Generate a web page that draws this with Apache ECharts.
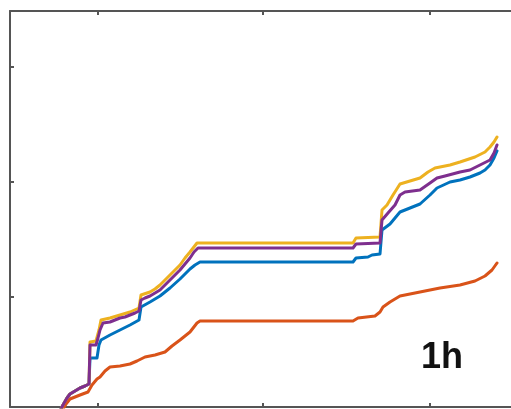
<!DOCTYPE html>
<html>
<head>
<meta charset="utf-8">
<script src="https://cdn.jsdelivr.net/npm/echarts@6/dist/echarts.min.js"></script>
<style>html,body{margin:0;padding:0;background:#fff;overflow:hidden;}#c{width:530px;height:409px;}</style>
</head>
<body>
<div id="c"></div>
<script>
// Tick positions (axes have no labels)
const xTicks = [8.8, 25.3, 42.0];
const yTicks = [11.0, 22.5, 34.0];

// Series values [x, y]
const blueData = [[5.0,-0.4],[5.3,0.2],[5.7,0.9],[6.0,1.3],[6.5,1.6],[7.0,1.9],[7.5,2.1],[7.9,2.3],
  [8.0,4.9],[8.7,4.9],[8.9,6.2],[9.1,6.7],[10.0,7.2],[11.0,7.7],[12.0,8.2],[12.9,8.7],
  [13.1,10.0],[14.0,10.5],[15.0,11.1],[16.0,11.9],[17.0,12.8],[18.0,13.8],[18.5,14.2],[19.0,14.5],
  [34.3,14.5],[34.6,14.9],[35.8,15.0],[36.2,15.2],[37.0,15.3],[37.2,17.7],[38.0,18.3],[38.5,18.9],
  [39.0,19.5],[40.0,19.9],[41.0,20.3],[42.0,21.2],[42.7,21.9],[44.0,22.5],[45.0,22.7],[46.0,23.0],
  [47.0,23.4],[47.5,23.7],[48.0,24.2],[48.4,24.9],[48.7,25.6]];

const orangeData = [[5.2,-0.4],[5.6,0.3],[6.0,0.8],[7.0,1.2],[7.8,1.5],[8.2,2.2],[8.7,2.8],[9.0,3.0],
  [9.5,3.6],[10.0,4.0],[11.0,4.1],[12.0,4.3],[12.7,4.6],[13.5,5.0],[14.5,5.2],[15.5,5.5],
  [16.2,6.1],[17.0,6.7],[18.0,7.5],[18.7,8.4],[19.0,8.6],[34.3,8.6],[34.8,8.9],[36.5,9.1],
  [37.0,9.5],[37.3,10.0],[38.0,10.5],[39.0,11.1],[41.0,11.5],[43.0,11.9],[45.0,12.2],[46.5,12.6],
  [47.5,13.1],[48.2,13.7],[48.7,14.4]];

const yellowData = [[5.0,-0.4],[5.3,0.2],[5.7,0.9],[6.0,1.3],[6.5,1.6],[7.0,1.9],[7.5,2.1],[7.9,2.3],
  [8.0,6.5],[8.6,6.6],[8.9,7.7],[9.1,8.7],[10.0,8.9],[11.0,9.2],[12.0,9.5],[12.9,9.9],
  [13.1,11.2],[14.0,11.5],[14.5,11.8],[15.0,12.2],[15.5,12.7],[16.0,13.2],[16.5,13.7],[17.0,14.2],
  [17.5,14.9],[18.0,15.5],[18.7,16.4],[34.3,16.4],[34.6,16.9],[37.0,17.0],[37.2,19.7],[37.7,20.2],
  [38.3,21.2],[39.0,22.3],[40.0,22.6],[41.0,22.9],[41.8,23.5],[42.5,23.9],[44.0,24.2],[45.0,24.5],
  [46.5,25.0],[47.5,25.5],[48.0,26.0],[48.4,26.5],[48.7,27.0]];

const purpleData = [[5.0,-0.4],[5.3,0.2],[5.7,0.9],[6.0,1.3],[6.5,1.6],[7.0,1.9],[7.5,2.1],[7.9,2.3],
  [8.0,6.2],[8.6,6.2],[8.8,6.9],[9.0,7.7],[9.3,8.4],[10.0,8.5],[10.5,8.7],[11.0,8.9],
  [11.5,9.0],[12.0,9.2],[12.5,9.4],[12.9,9.6],[13.1,10.7],[13.5,10.9],[14.0,11.1],[14.5,11.4],
  [15.0,11.7],[15.5,12.2],[16.0,12.7],[16.5,13.2],[17.0,13.7],[17.5,14.3],[18.0,14.9],[18.4,15.5],
  [18.8,15.9],[34.3,15.9],[34.6,16.3],[37.0,16.4],[37.2,18.7],[37.8,19.4],[38.5,20.2],[39.0,21.2],
  [39.5,21.5],[41.0,21.7],[42.0,22.4],[42.7,22.9],[43.5,23.1],[45.0,23.5],[46.0,23.7],[47.0,24.2],
  [48.0,24.7],[48.4,25.4],[48.7,26.2]];

const labelText = '1h';

const axisColor = '#555555';
function xAx(pos) {
  return {
    type: 'value', position: pos, min: 0, max: 52.0,
    axisLine: { show: true, onZero: false, lineStyle: { color: axisColor, width: 2 } },
    axisTick: { show: true, inside: true, length: 4, customValues: xTicks, lineStyle: { color: axisColor, width: 2 } },
    axisLabel: { show: false },
    splitLine: { show: false }
  };
}
function yAx(pos) {
  return {
    type: 'value', position: pos, min: 0, max: 39.6,
    axisLine: { show: true, onZero: false, lineStyle: { color: axisColor, width: 2 } },
    axisTick: { show: true, inside: true, length: 4, customValues: yTicks, lineStyle: { color: axisColor, width: 2 } },
    axisLabel: { show: false },
    splitLine: { show: false }
  };
}
function ser(data, color) {
  return { type: 'line', data: data, showSymbol: false, symbol: 'none',
    lineStyle: { color: color, width: 3, join: 'round', cap: 'round' }, itemStyle: { color: color }, animation: false, clip: true };
}

const chart = echarts.init(document.getElementById('c'), null, { renderer: 'canvas' });
chart.setOption({
  backgroundColor: '#ffffff',
  animation: false,
  grid: { left: 10, top: 11, right: 0, bottom: 2, show: false },
  xAxis: [xAx('bottom'), xAx('top')],
  yAxis: [yAx('left')],
  series: [
    ser(blueData, '#0072BD'),
    ser(orangeData, '#D95319'),
    ser(yellowData, '#EDB120'),
    ser(purpleData, '#7E2F8E')
  ],
  graphic: [{
    type: 'text', x: 421, y: 358,
    style: { text: labelText, font: 'bold 36px "Liberation Sans", Arial, sans-serif', fill: '#111', verticalAlign: 'middle', align: 'left' }
  }]
});
</script>
</body>
</html>
